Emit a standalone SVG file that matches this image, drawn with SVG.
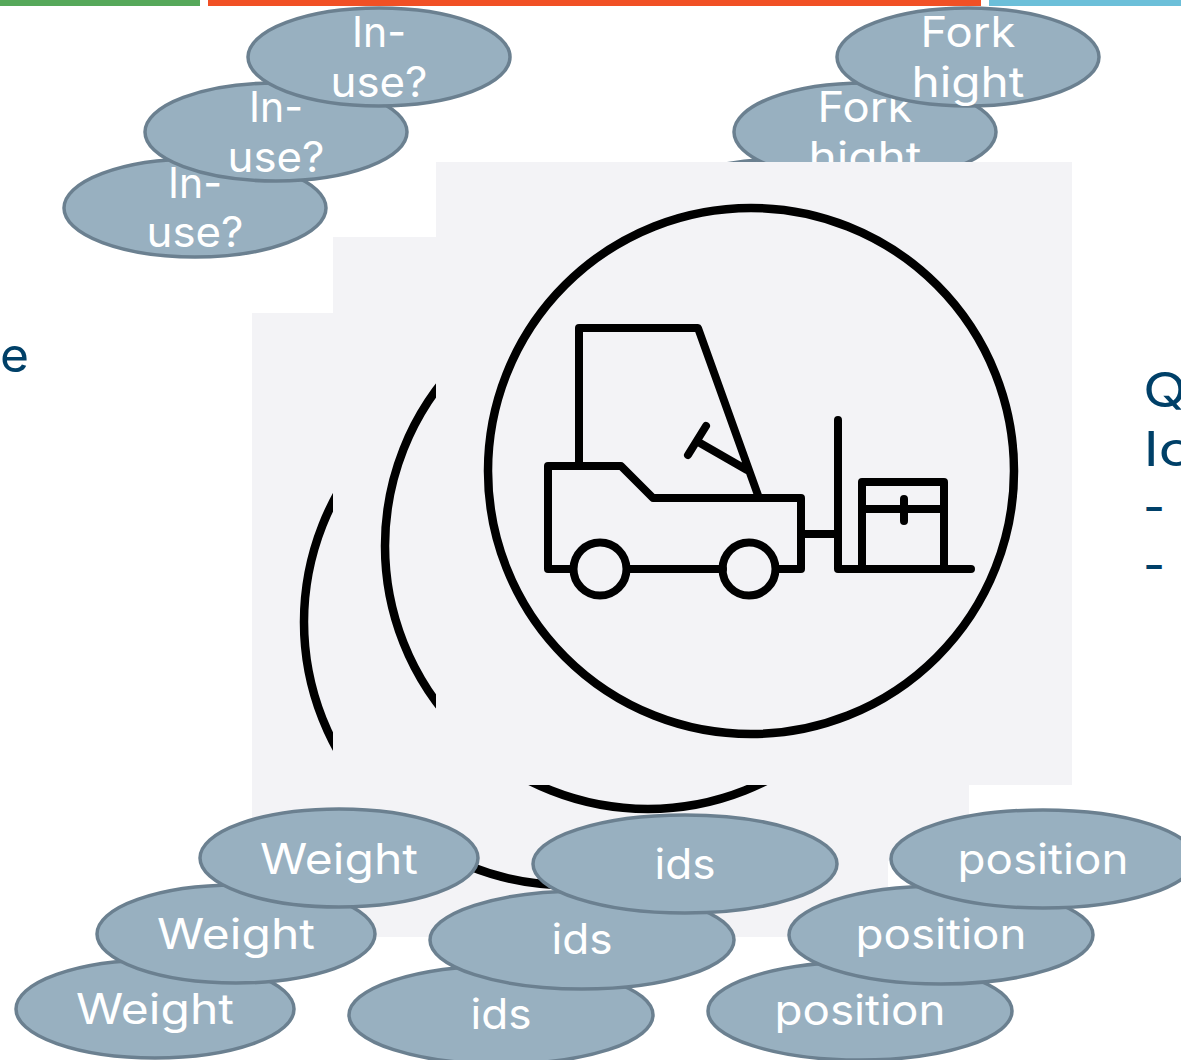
<svg xmlns="http://www.w3.org/2000/svg" width="1181" height="1060" viewBox="0 0 1181 1060">
<style>
.n ellipse{fill:#98b0c0;stroke:#6b8090;stroke-width:3.5}
.n text{fill:#fff;font-family:Inter,"Liberation Sans",sans-serif;font-size:42px;text-anchor:middle}
.sq{fill:#f3f3f6}
.ring{fill:none;stroke:#000;stroke-width:8.5}
.ink{fill:none;stroke:#000;stroke-width:8;stroke-linejoin:round;stroke-linecap:round}
.side{fill:#004068;font-family:Inter,"Liberation Sans",sans-serif;font-size:48px}
</style>
<g id="top-bars">
<rect x="0" y="0" width="200" height="6" fill="#56a85a"/>
<rect x="208" y="0" width="773" height="6" fill="#f15025"/>
<rect x="989" y="0" width="192" height="6" fill="#6cbfd9"/>
</g>
<text class="side" x="0" y="372" textLength="29" lengthAdjust="spacingAndGlyphs">e</text>
<g class="side">
<text x="1143" y="407" textLength="44" lengthAdjust="spacingAndGlyphs">Q</text>
<text x="1144" y="466" textLength="50" lengthAdjust="spacingAndGlyphs">lo</text>
<text x="1143" y="524">-</text>
<text x="1143" y="582">-</text>
</g>
<g id="inuse-3" class="n"><ellipse cx="195" cy="208" rx="131" ry="49"/><text x="195" y="198" textLength="54" lengthAdjust="spacingAndGlyphs">In-</text><text x="195" y="247" textLength="97" lengthAdjust="spacingAndGlyphs">use?</text></g>
<g id="inuse-2" class="n"><ellipse cx="276" cy="132" rx="131" ry="49"/><text x="276" y="122" textLength="54" lengthAdjust="spacingAndGlyphs">In-</text><text x="276" y="172" textLength="97" lengthAdjust="spacingAndGlyphs">use?</text></g>
<g id="inuse-1" class="n"><ellipse cx="379" cy="57" rx="131" ry="49"/><text x="379" y="47" textLength="54" lengthAdjust="spacingAndGlyphs">In-</text><text x="379" y="97" textLength="97" lengthAdjust="spacingAndGlyphs">use?</text></g>
<g id="fork-3" class="n"><ellipse cx="784" cy="208" rx="131" ry="49"/></g>
<g id="fork-2" class="n"><ellipse cx="865" cy="132" rx="131" ry="49"/><text x="865" y="122" textLength="95" lengthAdjust="spacingAndGlyphs">Fork</text><text x="865" y="172" textLength="113" lengthAdjust="spacingAndGlyphs">hight</text></g>
<g id="forklift-back"><rect class="sq" x="252" y="313" width="636" height="624"/><circle class="ring" cx="567" cy="622" r="263"/></g>
<g id="forklift-middle"><rect class="sq" x="333" y="237" width="636" height="624"/><circle class="ring" cx="648" cy="546" r="263"/></g>
<g id="forklift-front"><rect class="sq" x="436" y="162" width="636" height="623"/><circle class="ring" cx="751" cy="471" r="263"/>
<path class="ink" d="M572 569H548V466H621L653 498H801V569H777M723 569H627M579 466V328H698L759 498M688 455L706 426M700 443L747 470M805 534H838M838 420V569H971M862 569V482H944V569M862 509H944M904 499V521"/>
<circle class="ink" cx="600" cy="569" r="26.5"/><circle class="ink" cx="749" cy="569" r="26.5"/></g>
<g id="fork-1" class="n"><ellipse cx="968" cy="57" rx="131" ry="49"/><text x="968" y="47" textLength="95" lengthAdjust="spacingAndGlyphs">Fork</text><text x="968" y="97" textLength="113" lengthAdjust="spacingAndGlyphs">hight</text></g>
<g id="weight-3" class="n"><ellipse cx="155" cy="1009" rx="139" ry="49"/><text x="155" y="1024" textLength="158" lengthAdjust="spacingAndGlyphs">Weight</text></g>
<g id="weight-2" class="n"><ellipse cx="236" cy="934" rx="139" ry="49"/><text x="236" y="949" textLength="158" lengthAdjust="spacingAndGlyphs">Weight</text></g>
<g id="weight-1" class="n"><ellipse cx="339" cy="858" rx="139" ry="49"/><text x="339" y="874" textLength="158" lengthAdjust="spacingAndGlyphs">Weight</text></g>
<g id="ids-3" class="n"><ellipse cx="501" cy="1015" rx="152" ry="49"/><text x="501" y="1029" textLength="61" lengthAdjust="spacingAndGlyphs">ids</text></g>
<g id="ids-2" class="n"><ellipse cx="582" cy="940" rx="152" ry="49"/><text x="582" y="954" textLength="61" lengthAdjust="spacingAndGlyphs">ids</text></g>
<g id="ids-1" class="n"><ellipse cx="685" cy="864" rx="152" ry="49"/><text x="685" y="879" textLength="61" lengthAdjust="spacingAndGlyphs">ids</text></g>
<g id="position-3" class="n"><ellipse cx="860" cy="1011" rx="152" ry="49"/><text x="860" y="1025" textLength="171" lengthAdjust="spacingAndGlyphs">position</text></g>
<g id="position-2" class="n"><ellipse cx="941" cy="935" rx="152" ry="49"/><text x="941" y="949" textLength="171" lengthAdjust="spacingAndGlyphs">position</text></g>
<g id="position-1" class="n"><ellipse cx="1043" cy="859" rx="152" ry="49"/><text x="1043" y="874" textLength="171" lengthAdjust="spacingAndGlyphs">position</text></g>
</svg>
